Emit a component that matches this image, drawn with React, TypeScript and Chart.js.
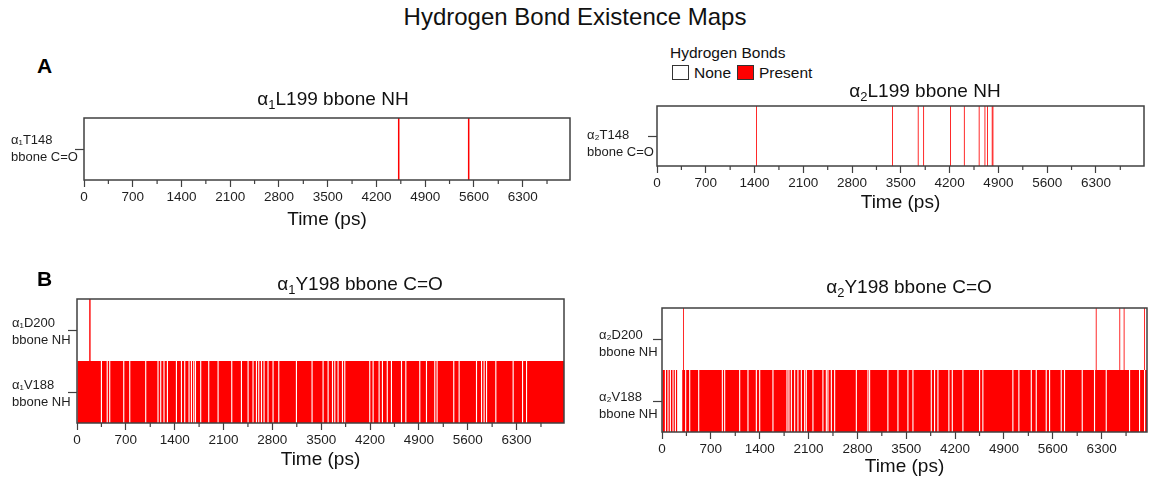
import React, { useEffect, useRef } from 'react';
import { Chart, registerables } from 'chart.js';

Chart.register(...registerables);

const FONT = "'Liberation Sans', Arial, Helvetica, sans-serif";
const RED = '#ff0000';
const INK = '#1e1e1e';
const FRAME = '#404040';

// ---------- shared axis settings ----------
const timeAxisTitle = 'Time (ps)';
const majorTickStep = 700;
const minorTickStep = 350;

// ---------- Panel A, α1 ----------
const a1Categories = ['T148'];
const a1RowLabels = [['α₁T148', 'bbone C=O']];
const a1TimeMax = 6980;
const a1PresentT148 = [4520, 5525];

// ---------- Panel A, α2 ----------
const a2Categories = ['T148'];
const a2RowLabels = [['α₂T148', 'bbone C=O']];
const a2TimeMax = 6990;
const a2PresentT148 = [1427, 3380, 3749, 3827, 4213, 4411, 4624, 4707, 4744, 4811, 4822];

// ---------- Panel B, α1 ----------
const b1Categories = ['D200', 'V188'];
const b1RowLabels = [['α₁D200', 'bbone NH'], ['α₁V188', 'bbone NH']];
const b1TimeMax = 6980;
const b1PresentD200 = [185];
const b1AbsentV188 = [
  350, 433, 469, 670, 756, 985, 1161, 1200, 1247, 1296, 1425, 1497, 1544, 1606, 1640,
  1673, 1698, 1773, 1888, 2022, 2218, 2357, 2452, 2523, 2572, 2605, 2644, 2681, 2738,
  2810, 2892, 3145, 3369, 3527, 3599, 3662, 3695, 3742, 3805, 3838, 4196, 4244, 4330,
  4378, 4447, 4507, 4651, 4713, 4913, 5009, 5128, 5161, 5400, 5477, 5726, 5798, 5835,
  5870, 6003, 6251, 6386, 6443,
];

// ---------- Panel B, α2 ----------
const b2Categories = ['D200', 'V188'];
const b2RowLabels = [['α₂D200', 'bbone NH'], ['α₂V188', 'bbone NH']];
const b2TimeMax = 6950;
const b2PresentD200 = [309, 6222, 6560, 6622, 6913];
const b2AbsentV188 = [
  49, 86, 120, 158, 192, 225, 240, 254, 268, 282, 339, 397, 526, 865, 898, 1113, 1232,
  1352, 1400, 1590, 1791, 1819, 1854, 1901, 1948, 1997, 2044, 2068, 2163, 2306, 2355,
  2378, 2427, 2474, 2785, 2951, 2975, 3237, 3381, 3524, 3596, 3859, 3906, 3954, 4111,
  4160, 4312, 4551, 4598, 5028, 5114, 5292, 5363, 5506, 5554, 5721, 5768, 6022, 6198,
  6366, 6700, 6843, 6915,
];

// ---------- helpers building the library's data tables ----------
type Interval = { x: [number, number]; y: string };

const pulses = (times: number[], row: string, width: number): Interval[] =>
  times.map((t) => ({ x: [t - width / 2, t + width / 2], y: row }));

const presentBetween = (absent: number[], row: string, max: number, width: number): Interval[] => {
  const out: Interval[] = [];
  let start = 0;
  for (const t of absent) {
    const a = t - width / 2;
    if (a > start) out.push({ x: [start, a], y: row });
    start = t + width / 2;
  }
  if (start < max) out.push({ x: [start, max], y: row });
  return out;
};

const tickValuesUpTo = (max: number): number[] => {
  const out: number[] = [];
  for (let v = 0; v <= max; v += minorTickStep) out.push(v);
  return out;
};

const barSet = (data: Interval[], color: string) => ({
  data,
  backgroundColor: color,
  borderWidth: 0,
  inflateAmount: 0,
  barPercentage: 1,
  categoryPercentage: 1,
  grouped: false,
});

const isMajor = (v: number) => Math.abs(v % majorTickStep) < 1e-6;

const boxPlugin = {
  id: 'boxFrame',
  afterDatasetsDraw(chart: any) {
    const { ctx, chartArea: a, scales } = chart;
    const xs = scales.x;
    ctx.save();
    ctx.strokeStyle = FRAME;
    ctx.lineWidth = 1.2;
    ctx.beginPath();
    for (const t of xs.ticks) {
      if (isMajor(t.value)) continue;
      const px = xs.getPixelForValue(t.value);
      ctx.moveTo(px, a.bottom);
      ctx.lineTo(px, a.bottom + 4);
    }
    ctx.stroke();
    ctx.lineWidth = 1.5;
    ctx.strokeRect(a.left, a.top, a.right - a.left, a.bottom - a.top);
    ctx.restore();
  },
};

type Cfg = {
  canvas: { x: number; y: number; w: number; h: number };
  plot: { l: number; t: number; r: number; b: number };
  labelLeft: number;
  labelShift: number;
  xh: number;
  xMax: number;
  categories: string[];
  rowLabels: string[][];
  datasets: any[];
};

function Panel({ cfg }: { cfg: Cfg }) {
  const ref = useRef<HTMLCanvasElement | null>(null);
  useEffect(() => {
    const { canvas, plot, labelLeft, labelShift, xh, xMax, categories, rowLabels, datasets } = cfg;
    const yw = plot.l - labelLeft;
    const chart = new Chart(ref.current as HTMLCanvasElement, {
      type: 'bar',
      data: { labels: categories, datasets },
      plugins: [boxPlugin],
      options: {
        indexAxis: 'y',
        animation: false,
        responsive: false,
        events: [],
        layout: {
          padding: {
            left: labelLeft - canvas.x,
            top: plot.t - canvas.y,
            right: canvas.x + canvas.w - plot.r,
            bottom: canvas.y + canvas.h - plot.b - xh,
          },
        },
        plugins: {
          legend: { display: false },
          tooltip: { enabled: false },
          title: { display: false },
        },
        scales: {
          x: {
            type: 'linear',
            position: 'bottom',
            min: 0,
            max: xMax,
            afterBuildTicks: (s: any) => {
              s.ticks = tickValuesUpTo(xMax).map((v) => ({ value: v }));
            },
            afterFit: (s: any) => {
              s.height = xh;
            },
            border: { display: false },
            grid: {
              display: true,
              drawOnChartArea: false,
              drawTicks: true,
              tickLength: 7,
              tickWidth: 1.2,
              tickColor: (c: any) => (c.tick && isMajor(c.tick.value) ? FRAME : 'rgba(0,0,0,0)'),
            },
            ticks: {
              autoSkip: false,
              maxRotation: 0,
              padding: 2.5,
              color: INK,
              font: { family: FONT, size: 13.5 },
              callback: (v: any) => (isMajor(Number(v)) ? String(v) : ''),
            },
            title: {
              display: true,
              text: timeAxisTitle,
              color: '#111',
              padding: 0,
              font: { family: FONT, size: 19 },
            },
          },
          y: {
            type: 'category',
            position: 'left',
            labels: categories,
            offset: true,
            afterFit: (s: any) => {
              s.width = yw;
            },
            border: { display: false },
            grid: {
              display: true,
              offset: false,
              drawOnChartArea: false,
              drawTicks: true,
              tickLength: 9,
              tickWidth: 1.2,
              tickColor: FRAME,
            },
            ticks: {
              crossAlign: 'far',
              padding: 0,
              labelOffset: labelShift,
              autoSkip: false,
              color: INK,
              font: { family: FONT, size: 13, lineHeight: 1.25 },
              callback: (_v: any, i: number) => rowLabels[i],
            },
          },
        },
      } as any,
    });
    return () => chart.destroy();
  }, []);
  const c = cfg.canvas;
  return (
    <canvas
      ref={ref}
      width={c.w}
      height={c.h}
      style={{ position: 'absolute', left: c.x, top: c.y, width: c.w, height: c.h }}
    />
  );
}

const GAP = 16; // ps width of one absent frame
const panels: Cfg[] = [
  {
    canvas: { x: 0, y: 96, w: 580, h: 140 },
    plot: { l: 84, t: 118, r: 570, b: 180 },
    labelLeft: 11,
    labelShift: 0,
    xh: 51.4,
    xMax: a1TimeMax,
    categories: a1Categories,
    rowLabels: a1RowLabels,
    datasets: [barSet(pulses(a1PresentT148, 'T148', 22), RED)],
  },
  {
    canvas: { x: 580, y: 84, w: 569, h: 138 },
    plot: { l: 657, t: 106, r: 1144, b: 166 },
    labelLeft: 587,
    labelShift: 8,
    xh: 48.4,
    xMax: a2TimeMax,
    categories: a2Categories,
    rowLabels: a2RowLabels,
    datasets: [barSet(pulses(a2PresentT148, 'T148', 12), RED)],
  },
  {
    canvas: { x: 0, y: 277, w: 580, h: 196 },
    plot: { l: 77, t: 299, r: 564, b: 423 },
    labelLeft: 12,
    labelShift: 2,
    xh: 48.4,
    xMax: b1TimeMax,
    categories: b1Categories,
    rowLabels: b1RowLabels,
    datasets: [
      barSet(pulses(b1PresentD200, 'D200', 20), RED),
      barSet(presentBetween(b1AbsentV188, 'V188', b1TimeMax, GAP), RED),
    ],
  },
  {
    canvas: { x: 585, y: 286, w: 564, h: 195 },
    plot: { l: 662, t: 308, r: 1147, b: 432 },
    labelLeft: 599,
    labelShift: 5,
    xh: 46.4,
    xMax: b2TimeMax,
    categories: b2Categories,
    rowLabels: b2RowLabels,
    datasets: [
      barSet(pulses(b2PresentD200, 'D200', 12), RED),
      barSet(presentBetween(b2AbsentV188, 'V188', b2TimeMax, GAP), RED),
    ],
  },
];

const subStyle: React.CSSProperties = {
  fontSize: '0.68em',
  verticalAlign: '-0.32em',
  lineHeight: 0,
};

function PanelTitle({ cx, cy, sub, rest }: { cx: number; cy: number; sub: string; rest: string }) {
  return (
    <div
      style={{
        position: 'absolute',
        left: cx,
        top: cy - 9.5,
        transform: 'translateX(-50%)',
        font: `19px ${FONT}`,
        lineHeight: '19px',
        color: '#111',
        whiteSpace: 'nowrap',
      }}
    >
      α<span style={subStyle}>{sub}</span>
      {rest}
    </div>
  );
}

const abs = (left: number, top: number, extra: React.CSSProperties = {}): React.CSSProperties => ({
  position: 'absolute',
  left,
  top,
  whiteSpace: 'nowrap',
  ...extra,
});

export default function App() {
  return (
    <div
      style={{
        position: 'fixed',
        left: 0,
        top: 0,
        width: 1149,
        height: 481,
        background: '#ffffff',
        overflow: 'hidden',
      }}
    >
      {panels.map((p, i) => (
        <Panel key={i} cfg={p} />
      ))}

      <div
        style={abs(575, 5, {
          transform: 'translateX(-50%)',
          font: `24px ${FONT}`,
          lineHeight: '24px',
          color: '#111',
        })}
      >
        Hydrogen Bond Existence Maps
      </div>

      <div style={abs(37, 54.5, { font: `bold 21px ${FONT}`, lineHeight: '21px', color: '#000' })}>A</div>
      <div style={abs(37, 267.5, { font: `bold 21px ${FONT}`, lineHeight: '21px', color: '#000' })}>B</div>

      <div style={abs(670, 44.5, { font: `15.5px ${FONT}`, lineHeight: '15.5px', color: '#111' })}>
        Hydrogen Bonds
      </div>
      <div
        style={abs(672, 65, {
          width: 17,
          height: 15,
          boxSizing: 'border-box',
          border: '1.3px solid #333',
          background: '#fff',
        })}
      />
      <div style={abs(694, 65, { font: `15.5px ${FONT}`, lineHeight: '15.5px', color: '#111' })}>None</div>
      <div
        style={abs(737, 65, {
          width: 17,
          height: 15,
          boxSizing: 'border-box',
          border: '1.3px solid #333',
          background: RED,
        })}
      />
      <div style={abs(759, 65, { font: `15.5px ${FONT}`, lineHeight: '15.5px', color: '#111' })}>Present</div>

      <PanelTitle cx={333} cy={98.3} sub="1" rest="L199 bbone NH" />
      <PanelTitle cx={925} cy={90} sub="2" rest="L199 bbone NH" />
      <PanelTitle cx={360} cy={283.3} sub="1" rest="Y198 bbone C=O" />
      <PanelTitle cx={909} cy={286.7} sub="2" rest="Y198 bbone C=O" />
    </div>
  );
}
